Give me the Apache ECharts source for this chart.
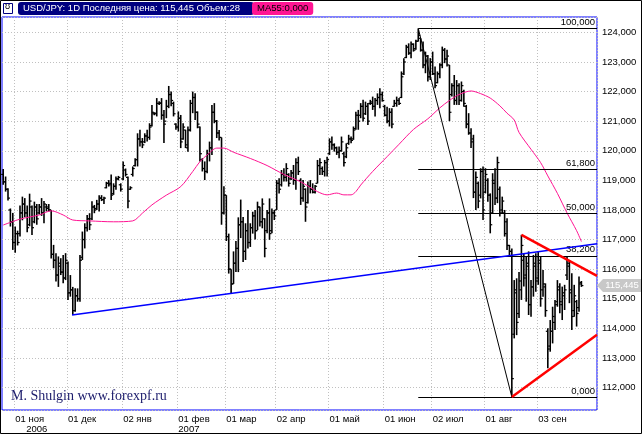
<!DOCTYPE html>
<html>
<head>
<meta charset="utf-8">
<title>USD/JPY 1D</title>
<script src="https://cdn.jsdelivr.net/npm/echarts@6.0.0/dist/echarts.min.js"></script>
<style>
  html, body { margin: 0; padding: 0; background: #fff; }
  #chart { width: 643px; height: 435px; }
</style>
</head>
<body>
<div id="chart"></div>
<script>
// daily bars (one slot per trading day)
const opens = [
  119.2, 118.95, 118.7, 118.0, 117.6, 116.9, 117.2, 117.2, 117.9, 118.2,
  117.9, 117.5, 118.1, 117.6, 118.1, 117.9, 118.1, 117.9, 118.1, 118.1,
  118.0, 116.5, 116.3, 115.8, 116.1, 115.9, 115.7, 116.2, 115.2, 115.3,
  114.6, 115.1, 115.0, 116.4, 117.0, 117.4, 117.7, 117.7, 118.1, 118.05,
  118.2, 118.4, 118.35, 118.75, 118.9, 118.9, 118.55, 118.8, 119.05, 118.85,
  119.05, 119.35, 119.1, 118.7, 119.2, 119.5, 119.7, 120.4, 120.3, 120.3,
  120.5, 120.45, 120.85, 121.25, 121.25, 121.6, 121.6, 121.2, 121.0, 121.5,
  121.9, 121.6, 120.9, 120.8, 121.1, 120.4, 120.7, 120.1, 120.7, 121.6,
  121.8, 121.3, 120.8, 119.7, 119.4, 119.3, 119.9, 120.1, 121.3, 121.0,
  120.6, 120.45, 117.9, 118.5, 117.1, 116.0, 115.5, 116.2, 116.7, 117.5,
  117.6, 116.6, 117.3, 116.9, 117.4, 117.8, 117.3, 118.1, 117.6, 117.7,
  117.3, 117.9, 117.3, 117.9, 118.0, 118.9, 118.85, 119.2, 119.1, 119.2,
  119.05, 119.25, 119.0, 119.6, 119.0, 118.4, 118.7, 118.25, 118.8, 118.7,
  118.6, 118.9, 119.5, 119.4, 119.3, 119.6, 119.9, 120.3, 120.2, 120.1,
  119.95, 120.0, 119.9, 119.8, 120.25, 120.4, 120.4, 120.75, 121.2, 121.2,
  121.5, 121.25, 121.5, 121.6, 121.6, 121.5, 121.7, 121.8, 121.9, 121.5,
  121.2, 121.0, 121.3, 121.5, 121.6, 121.7, 121.8, 122.6, 123.15, 123.5,
  123.3, 123.6, 123.45, 123.7, 123.8, 123.4, 122.9, 123.2, 122.5, 123.0,
  122.6, 122.3, 122.6, 122.9, 123.4, 123.1, 122.9, 121.9, 122.2, 121.7,
  122.2, 121.7, 122.0, 121.5, 120.9, 120.6, 120.4, 118.6, 118.9, 118.5,
  119.3, 118.6, 119.0, 118.5, 117.9, 118.9, 118.4, 118.7, 118.0, 117.9,
  117.6, 116.8, 116.6, 113.8, 115.2, 114.5, 115.3, 116.3, 115.8, 116.1,
  114.8, 115.4, 116.1, 115.7, 116.2, 115.3, 115.4, 113.9, 113.4, 113.9,
  114.2, 114.9, 115.3, 114.8, 115.1, 115.8, 116.1, 115.3, 114.6, 114.9,
  114.7, 115.55
];
const highs = [
  119.38, 119.13, 118.73, 118.05, 117.9, 117.44, 117.3, 118.15, 118.45, 118.4,
  118.15, 118.55, 118.15, 118.28, 118.2, 118.2, 118.4, 118.3, 118.2, 118.2,
  118.0, 116.82, 116.54, 116.43, 116.37, 116.48, 116.54, 116.26, 115.8, 115.4,
  115.35, 115.35, 116.48, 117.27, 117.55, 117.83, 117.89, 118.29, 118.17, 118.34,
  118.5, 118.5, 118.45, 118.95, 119.01, 119.2, 118.9, 119.13, 119.15, 118.9,
  119.64, 119.4, 119.13, 118.8, 119.47, 119.75, 120.59, 120.71, 120.43, 120.59,
  120.71, 120.93, 121.55, 121.3, 121.78, 121.67, 121.78, 121.38, 121.72, 122.19,
  122.0, 121.66, 120.93, 121.33, 121.21, 120.93, 120.71, 120.82, 121.72, 122.0,
  121.94, 121.33, 120.82, 119.75, 119.64, 120.03, 120.31, 121.55, 121.61, 121.04,
  120.7, 120.45, 118.8, 118.5, 117.2, 116.0, 116.6, 116.95, 117.75, 118.35,
  117.76, 117.55, 118.0, 117.55, 117.94, 118.0, 118.28, 118.11, 118.39, 117.72,
  118.0, 118.39, 118.05, 118.0, 119.01, 119.07, 119.35, 119.41, 119.58, 119.24,
  119.35, 119.52, 119.75, 119.8, 119.07, 119.01, 118.73, 118.96, 119.01, 118.9,
  118.84, 119.69, 119.75, 119.47, 119.69, 119.8, 120.42, 120.48, 120.25, 120.14,
  120.14, 120.48, 119.97, 120.25, 120.54, 120.48, 120.82, 121.32, 121.38, 121.61,
  121.72, 121.66, 121.61, 121.72, 121.83, 121.78, 121.94, 122.11, 122.0, 121.55,
  121.49, 121.44, 121.44, 121.72, 121.83, 121.78, 122.68, 123.13, 123.58, 123.63,
  123.69, 123.63, 123.75, 124.13, 123.8, 123.69, 123.35, 123.24, 123.13, 123.35,
  122.85, 122.68, 122.96, 123.52, 123.47, 123.41, 122.9, 122.28, 122.56, 122.39,
  122.28, 122.34, 122.06, 121.55, 121.27, 120.76, 120.54, 119.3, 118.96, 119.41,
  119.47, 119.41, 119.07, 118.56, 119.24, 119.41, 119.8, 118.79, 118.45, 118.0,
  117.72, 116.82, 116.7, 115.63, 115.69, 115.9, 117.16, 116.54, 116.42, 116.6,
  115.63, 116.48, 116.54, 116.6, 116.42, 115.97, 115.52, 114.0, 114.28, 114.73,
  114.96, 115.63, 115.52, 115.41, 115.47, 116.42, 116.31, 115.86, 115.47, 114.96,
  115.75, 115.6
];
const lows = [
  118.85, 118.62, 118.32, 117.44, 116.65, 116.55, 116.8, 117.1, 117.65, 117.75,
  117.25, 117.45, 117.15, 117.55, 117.5, 117.85, 117.8, 117.55, 117.95, 117.95,
  116.36, 116.03, 115.58, 115.4, 115.8, 115.52, 115.63, 114.96, 115.07, 114.45,
  114.56, 114.9, 114.9, 116.31, 116.7, 117.27, 117.32, 117.66, 117.89, 118.0,
  117.95, 118.3, 118.2, 118.73, 118.79, 118.34, 118.51, 118.68, 119.0, 118.62,
  119.0, 119.13, 118.06, 118.68, 119.13, 119.47, 119.47, 120.14, 120.09, 120.26,
  120.31, 120.37, 120.82, 121.2, 121.16, 121.55, 121.05, 120.26, 121.1, 121.44,
  121.5, 121.16, 120.71, 120.65, 120.09, 120.37, 120.09, 119.97, 120.65, 121.27,
  121.04, 120.76, 119.64, 119.3, 119.01, 119.24, 119.64, 119.86, 120.93, 120.43,
  120.35, 117.5, 117.85, 116.95, 115.85, 115.18, 115.5, 115.9, 115.9, 117.05,
  116.24, 116.31, 116.7, 116.75, 117.2, 117.0, 117.32, 117.44, 117.38, 116.4,
  117.21, 116.99, 117.21, 117.66, 118.0, 118.56, 118.79, 118.96, 118.96, 118.79,
  119.01, 118.85, 118.68, 119.18, 118.17, 118.28, 117.6, 118.22, 118.56, 118.56,
  118.56, 118.9, 119.18, 119.18, 119.13, 119.13, 119.86, 120.03, 119.97, 119.86,
  119.75, 119.97, 119.47, 119.75, 120.2, 120.25, 120.37, 120.71, 120.71, 121.1,
  120.99, 121.21, 120.87, 121.55, 121.38, 121.16, 121.55, 121.44, 121.66, 121.16,
  120.93, 120.82, 120.76, 121.49, 121.49, 121.55, 121.78, 122.56, 123.13, 123.24,
  123.13, 123.35, 123.41, 123.69, 123.35, 122.79, 122.62, 122.34, 122.39, 122.56,
  122.11, 122.28, 122.45, 122.79, 122.96, 122.85, 121.0, 121.83, 121.55, 121.55,
  121.55, 121.66, 121.49, 120.76, 120.54, 120.09, 118.4, 118.0, 118.06, 118.39,
  117.66, 118.56, 118.28, 117.21, 117.89, 118.17, 118.23, 117.78, 117.89, 117.1,
  116.65, 116.42, 111.68, 113.66, 113.77, 114.35, 114.96, 115.41, 114.9, 114.45,
  114.39, 115.07, 115.24, 115.47, 114.73, 115.07, 114.39, 112.65, 113.21, 113.49,
  113.94, 114.73, 114.51, 114.28, 114.62, 115.63, 114.85, 113.94, 114.39, 114.06,
  114.56, 115.4
];
const closes = [
  118.95, 118.7, 118.4, 117.6, 116.9, 117.2, 116.9, 117.9, 118.2, 117.9,
  117.4, 118.3, 117.4, 118.1, 117.7, 118.1, 117.9, 118.2, 118.05, 118.0,
  116.5, 116.3, 115.8, 116.2, 115.9, 115.7, 116.3, 115.2, 115.3, 114.6,
  115.1, 115.0, 116.3, 117.0, 117.4, 117.7, 117.5, 118.1, 118.0, 118.2,
  118.4, 118.35, 118.4, 118.9, 118.85, 118.5, 118.8, 119.05, 119.1, 118.7,
  119.5, 119.2, 118.3, 118.75, 119.4, 119.7, 120.4, 120.3, 120.2, 120.5,
  120.45, 120.8, 121.3, 121.27, 121.6, 121.62, 121.2, 120.9, 121.5, 121.9,
  121.7, 121.25, 120.8, 121.1, 120.3, 120.8, 120.2, 120.7, 121.6, 121.8,
  121.3, 120.9, 119.9, 119.4, 119.3, 119.9, 120.1, 121.3, 121.0, 120.6,
  120.45, 117.9, 118.5, 117.1, 116.0, 115.5, 116.2, 116.7, 117.5, 117.6,
  116.6, 117.3, 116.9, 117.4, 117.8, 117.3, 118.1, 117.6, 118.2, 116.7,
  117.9, 117.2, 117.9, 117.8, 118.9, 118.7, 119.2, 119.1, 119.4, 118.9,
  119.25, 119.0, 119.6, 119.3, 118.4, 118.8, 118.1, 118.8, 118.7, 118.6,
  118.8, 119.5, 119.6, 119.3, 119.6, 119.7, 120.3, 120.2, 120.1, 119.95,
  120.0, 120.3, 119.6, 120.1, 120.4, 120.35, 120.7, 121.2, 121.0, 121.5,
  121.1, 121.5, 121.0, 121.65, 121.5, 121.7, 121.8, 121.9, 121.7, 121.2,
  121.0, 121.3, 120.9, 121.6, 121.7, 121.6, 122.5, 123.0, 123.5, 123.3,
  123.6, 123.4, 123.7, 123.9, 123.4, 122.9, 123.2, 122.5, 123.0, 122.6,
  122.2, 122.6, 122.9, 123.4, 123.1, 123.2, 121.3, 122.2, 121.7, 122.2,
  121.7, 122.2, 121.6, 120.9, 120.6, 120.3, 118.6, 119.1, 118.3, 119.3,
  118.0, 119.2, 118.5, 117.5, 119.0, 118.4, 119.6, 117.9, 118.3, 117.2,
  116.8, 116.6, 112.3, 115.3, 114.2, 115.6, 116.8, 115.7, 116.2, 114.8,
  115.4, 116.2, 115.6, 116.3, 115.0, 115.5, 114.6, 113.3, 113.9, 114.4,
  114.8, 115.4, 114.9, 115.2, 115.3, 116.2, 115.2, 114.4, 115.1, 114.5,
  115.5, 115.445
];

// MA55 line, read at sampled slots
const maSlot = [0, 7, 15, 20, 25, 29, 36, 46, 54, 58, 62, 68, 74, 79, 82, 85, 89, 92, 96,
  103, 110, 117, 124, 131, 135, 139, 142, 145, 147, 149, 154, 160, 165, 171, 177, 182,
  186, 190, 195, 199, 203, 207, 210, 213, 215, 220, 224, 227, 231, 235, 239, 241];
const maValue = [117.49, 117.69, 117.83, 117.97, 117.83, 117.66, 117.63, 117.6, 117.63,
  117.89, 118.17, 118.5, 118.79, 119.3, 119.63, 119.86, 120.09, 120.09, 119.95, 119.74,
  119.5, 119.2, 118.95, 118.62, 118.51, 118.57, 118.51, 118.51, 118.62, 118.84, 119.3,
  119.8, 120.22, 120.72, 121.08, 121.45, 121.7, 121.9, 122.02, 121.93, 121.78, 121.52,
  121.27, 121.04, 120.62, 120.05, 119.6, 119.15, 118.56, 117.9, 117.3, 116.93];

// drawn objects: [slot, price] end points
const blueTrend = [[28.7, 114.45], [247.5, 116.86]];
const fibSwing = [[173, 124.13], [212, 111.68]];
const redUpper = [[216, 117.16], [247.5, 115.77]];
const redLower = [[212, 111.68], [247.5, 113.78]];
const fibLevels = [124.13, 119.38, 117.9, 116.45, 111.68];
const fibNames = ['100,000', '61,800', '50,000', '38,200', '0,000'];
const fibStart = 173;

// time axis
const slotCount = 248;
const monthSlots = [5, 27, 50, 73, 93, 114, 136, 159, 179, 201, 223];
const monthNames = ['01 ноя', '01 дек', '02 янв', '01 фев', '01 мар', '02 апр', '01 май', '01 июн', '02 июл', '01 авг', '03 сен'];
const yearAt = { 5: '2006', 73: '2007' };

const priceMin = 111.24;
const priceMax = 124.52;

const FONT = "'Liberation Sans', Arial, sans-serif";
const FS = 9.5;
const fmt = v => v.toFixed(3).replace('.', ',');
const lastPrice = closes[closes.length - 1];

const chart = echarts.init(document.getElementById('chart'));

const bars = opens.map((o, i) => [i, o, highs[i], lows[i], closes[i]]);

function renderBar(params, api) {
  const i = api.value(0);
  const pH = api.coord([i, api.value(2)]);
  const pL = api.coord([i, api.value(3)]);
  const pO = api.coord([i, api.value(1)]);
  const pC = api.coord([i, api.value(4)]);
  const x = pH[0];
  return {
    type: 'group',
    children: [
      { type: 'line', shape: { x1: x, y1: pH[1], x2: x, y2: pL[1] }, style: { stroke: '#000', lineWidth: 1.6 } },
      { type: 'line', shape: { x1: x - 2, y1: pO[1], x2: x, y2: pO[1] }, style: { stroke: '#000', lineWidth: 1.2 } },
      { type: 'line', shape: { x1: x, y1: pC[1], x2: x + 2, y2: pC[1] }, style: { stroke: '#000', lineWidth: 1.2 } }
    ]
  };
}

const gridDots = { color: '#c0c0c0', type: [1, 2], width: 1 };

const option = {
  animation: false,
  backgroundColor: '#fff',
  title: [
    {
      text: 'USD/JPY: 1D Последняя цена: ' + fmt(lastPrice) + ' Объем:28',
      left: 18, top: 2,
      padding: [1, 14, 1, 5],
      backgroundColor: '#000080',
      borderRadius: 3,
      textStyle: { color: '#fff', fontSize: FS, fontWeight: 'normal', fontFamily: FONT, lineHeight: 11 }
    },
    {
      text: 'MA55:0,000',
      left: 252, top: 2,
      padding: [1, 5, 1, 5],
      backgroundColor: '#ff1493',
      borderRadius: 3,
      textStyle: { color: '#000', fontSize: FS, fontWeight: 'normal', fontFamily: FONT, lineHeight: 11 }
    },
    {
      text: 'M. Shulgin www.forexpf.ru',
      left: 11, top: 389,
      padding: 0,
      textStyle: { color: '#1c1c6c', fontSize: 14, fontWeight: 'normal', fontFamily: "'Liberation Serif', 'Times New Roman', serif" }
    }
  ],
  graphic: [
    { type: 'rect', shape: { x: 0.5, y: 0.5, width: 641, height: 433 }, style: { fill: 'none', stroke: '#000', lineWidth: 1 }, silent: true },
    { type: 'rect', shape: { x: 3.5, y: 3.5, width: 9, height: 10 }, style: { fill: '#fff', stroke: '#000080', lineWidth: 1 }, silent: true },
    { type: 'text', left: 5, top: 2, style: { text: 'ʊ', fill: '#000', font: '9px ' + FONT }, silent: true }
  ],
  grid: {
    left: 2, right: 46, top: 17, bottom: 25,
    show: true, borderColor: '#0000ff', borderWidth: 1, backgroundColor: 'transparent'
  },
  xAxis: [
    {
      type: 'category',
      data: Array.from({ length: slotCount }, (_, i) => String(i)),
      boundaryGap: true,
      axisLine: { show: false },
      axisTick: { show: false },
      splitLine: { show: true, interval: idx => monthSlots.includes(idx), lineStyle: gridDots },
      axisLabel: {
        interval: idx => monthSlots.includes(idx),
        align: 'left',
        margin: 4,
        color: '#000',
        fontSize: FS,
        fontFamily: FONT,
        lineHeight: 10,
        formatter: (value) => {
          const k = monthSlots.indexOf(Number(value));
          if (k < 0) return '';
          const y = yearAt[monthSlots[k]];
          if (!y) return monthNames[k];
          return monthNames[k] + '\n{' + (y === '2006' ? 'y6' : 'y7') + '|' + y + '}';
        },
        rich: {
          y6: { padding: [0, 0, 0, 11], fontSize: FS, fontFamily: FONT, lineHeight: 10, color: '#000' },
          y7: { padding: [0, 0, 0, 0], fontSize: FS, fontFamily: FONT, lineHeight: 10, color: '#000' }
        }
      }
    },
    { type: 'value', min: -0.5, max: slotCount - 0.5, show: false }
  ],
  yAxis: {
    type: 'value',
    position: 'right',
    min: priceMin,
    max: priceMax,
    splitNumber: 13,
    axisLine: { show: false },
    axisTick: { show: false },
    splitLine: { show: true, lineStyle: gridDots },
    axisLabel: {
      margin: 5,
      color: '#000',
      fontSize: FS,
      fontFamily: FONT,
      showMinLabel: false,
      showMaxLabel: false,
      formatter: v => (Math.abs(v - Math.round(v)) < 1e-6 ? fmt(v) : '')
    }
  },
  series: [
    {
      name: 'USD/JPY',
      type: 'custom',
      xAxisIndex: 1,
      renderItem: renderBar,
      encode: { x: 0, y: [1, 2, 3, 4] },
      data: bars,
      z: 3
    },
    {
      name: 'MA55',
      type: 'line',
      xAxisIndex: 1,
      data: maSlot.map((s, k) => [s, maValue[k]]),
      symbol: 'none',
      smooth: 0.3,
      lineStyle: { color: '#ff1493', width: 1 },
      z: 4,
      markPoint: {
        silent: true,
        symbol: 'path://M0,6 L6,0 L44,0 L44,12 L6,12 Z',
        symbolSize: [44, 13],
        symbolOffset: [22, 0],
        itemStyle: { color: '#c8c8c8' },
        label: { show: true, formatter: fmt(lastPrice), color: '#fff', fontSize: FS, fontFamily: FONT, offset: [3, 0] },
        data: [{ coord: [slotCount - 0.5, lastPrice] }]
      }
    },
    {
      name: 'fibo',
      type: 'line',
      xAxisIndex: 1,
      data: fibSwing,
      symbol: 'none',
      lineStyle: { color: '#000', width: 1 },
      z: 5,
      markLine: {
        silent: true,
        symbol: ['none', 'none'],
        lineStyle: { color: '#000', width: 1.2, type: 'solid' },
        label: { show: true, position: 'insideEndTop', distance: [2, 1], color: '#000', fontSize: FS, fontFamily: FONT },
        data: fibLevels.map((v, k) => [
          { coord: [fibStart, v], name: fibNames[k], label: { formatter: fibNames[k] } },
          { coord: [slotCount - 0.5, v] }
        ])
      }
    },
    {
      name: 'trend',
      type: 'line',
      xAxisIndex: 1,
      data: blueTrend,
      symbol: 'none',
      lineStyle: { color: '#0000ff', width: 1.5 },
      z: 6
    },
    {
      name: 'upper',
      type: 'line',
      xAxisIndex: 1,
      data: redUpper,
      symbol: 'none',
      lineStyle: { color: '#ff0000', width: 2.5 },
      z: 6
    },
    {
      name: 'lower',
      type: 'line',
      xAxisIndex: 1,
      data: redLower,
      symbol: 'none',
      lineStyle: { color: '#ff0000', width: 2.5 },
      z: 6
    }
  ]
};

chart.setOption(option);
</script>
</body>
</html>
